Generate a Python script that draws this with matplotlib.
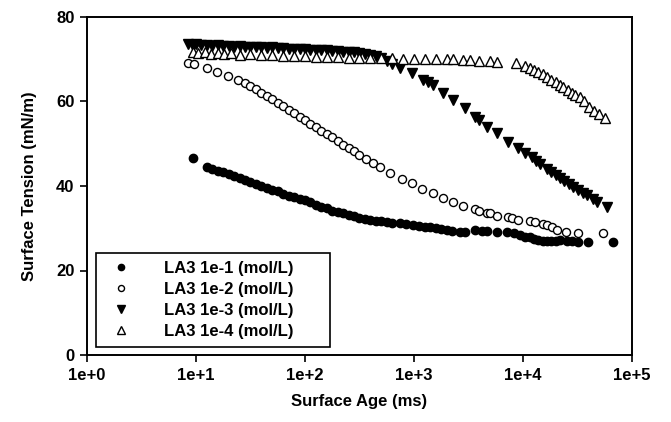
import matplotlib
matplotlib.use("Agg")
import matplotlib.pyplot as plt
from matplotlib import font_manager

names = {f.name for f in font_manager.fontManager.ttflist}
fam = "Liberation Sans Narrow" if "Liberation Sans Narrow" in names else "Liberation Sans"
plt.rcParams["font.family"] = [fam, "DejaVu Sans"]
plt.rcParams["font.weight"] = "bold"

# ---- data (surface age in ms, surface tension in mN/m) ----
age_1 = [9.3, 12.6, 14.1, 15.8, 17.8, 20, 22.4, 25.1, 28.2, 31.6, 35.5, 39.8, 44.7, 50.1, 56.2,
         63.1, 70.8, 79.4, 89.1, 100, 112, 126, 141, 158, 178, 200, 224, 251, 282, 316, 355,
         398, 447, 501, 562, 631, 741, 851, 977, 1122, 1259, 1413, 1585, 1778, 1995, 2239,
         2630, 2951, 3631, 4169, 4677, 5754, 7079, 8318, 9333, 10471, 11482, 12589, 13804,
         15136, 16596, 18197, 19953, 21878, 25119, 28184, 31623, 39811, 67608]
st_1 = [46.6, 44.6, 44.1, 43.6, 43.2, 42.8, 42.4, 41.9, 41.5, 41.0, 40.5, 40.0, 39.6, 39.1, 38.7,
        38.2, 37.7, 37.3, 36.9, 36.6, 36.1, 35.6, 35.1, 34.7, 34.2, 33.9, 33.5, 33.1, 32.8, 32.5, 32.2,
        32.0, 31.8, 31.6, 31.4, 31.3, 31.2, 30.9, 30.8, 30.6, 30.4, 30.3, 30.0, 29.8, 29.6, 29.4,
        29.1, 29.0, 29.6, 29.4, 29.3, 29.2, 29.1, 28.8, 28.4, 28.0, 27.9, 27.5, 27.2,
        27.0, 26.9, 27.0, 27.1, 27.2, 27.0, 26.9, 26.8, 26.8, 26.7]

age_2 = [8.5, 9.5, 12.6, 15.5, 19.5, 24.5, 28.2, 31.6, 35.5, 39.8, 44.7, 50.1, 56.2, 63.1, 70.8,
         79.4, 89.1, 100, 112, 126, 141, 158, 178, 200, 224, 251, 282, 316, 363, 417, 490, 603,
         776, 955, 1175, 1479, 1862, 2291, 2818, 3631, 3981, 4677, 5012, 5754, 7244, 7943, 8913,
         11482, 12882, 15136, 16596, 18621, 20417, 24547, 31623, 53703]
st_2 = [69.1, 68.9, 67.9, 66.9, 66.0, 65.2, 64.4, 63.7, 62.9, 62.1, 61.3, 60.5, 59.7, 58.9, 58.1,
        57.2, 56.4, 55.6, 54.7, 53.9, 53.1, 52.3, 51.5, 50.6, 49.8, 49.0, 48.2, 47.4, 46.4, 45.4, 44.5, 43.1,
        41.6, 40.7, 39.3, 38.3, 37.2, 36.2, 35.2, 34.6, 34.2, 33.6, 33.6, 32.9, 32.6, 32.4, 32.0,
        31.6, 31.4, 31.0, 30.8, 30.2, 29.6, 29.1, 28.9, 28.9]

age_3 = [8.5, 9.3, 10, 11.2, 12.6, 14.1, 15.8, 17.8, 20, 22.4, 25.1, 28.2, 31.6, 35.5, 39.8, 44.7,
         50.1, 56.2, 63.1, 70.8, 79.4, 89.1, 100, 112, 126, 141, 158, 178, 200, 224, 251, 282, 316,
         355, 398, 447, 501, 562, 631, 741, 955, 1202, 1349, 1479, 1862, 2291, 2951, 3631, 3981,
         4677, 5754, 7244, 8913, 10471, 12023, 13183, 14454, 16596, 18197, 19953, 21878, 23988,
         26303, 28840, 31623, 35481, 38905, 43652, 47863, 58884]
st_3 = [73.6, 73.2, 73.5, 73.3, 73.4, 73.2, 73.3, 73.1, 73.2, 73.0, 73.1, 72.9, 73.0, 72.8, 72.9, 72.7,
        72.8, 72.6, 72.6, 72.5, 72.5, 72.4, 72.4, 72.3, 72.3, 72.2, 72.1, 72.0, 71.9, 71.8, 71.7, 71.6, 71.4,
        71.2, 71.0, 70.7, 70.3, 69.6, 68.8, 67.9, 66.7, 65.1, 64.6, 63.9, 62.0, 60.4, 58.5, 56.3, 55.6,
        54.0, 52.5, 50.4, 49.0, 47.9, 46.9, 46.0, 45.2, 44.1, 43.3, 42.6, 41.9, 41.1,
        40.4, 39.8, 39.0, 38.3, 37.9, 37.0, 36.2, 35.0]

age_4 = [9.3, 10.5, 12, 13.8, 15.8, 18.2, 20.9, 25.1, 31.6, 39.8, 50.1, 63.1, 79.4, 100, 126, 158,
         200, 251, 316, 398, 501, 631, 794, 1000, 1259, 1585, 1995, 2291, 2818, 3236, 3981, 5012,
         5754, 8710, 10471, 11482, 12589, 13804, 15136, 16596, 18197, 19953, 21878, 23442, 25704,
         28184, 30200, 33113, 36308, 40738, 44668, 50119, 56234]
st_4 = [71.8, 71.5, 71.6, 71.3, 71.5, 71.2, 71.4, 71.1, 71.2, 71.0, 70.9, 70.8, 70.7, 70.7, 70.6, 70.5,
        70.5, 70.4, 70.3, 70.3, 70.2, 70.2, 70.1, 70.1, 70.0, 70.0, 70.0, 70.1, 69.8, 69.8, 69.7, 69.5,
        69.3, 69.1, 68.4, 67.9, 67.5, 66.9, 66.4, 65.8, 65.2, 64.6, 63.9, 63.4, 62.8,
        62.1, 61.6, 61.1, 60.1, 58.7, 57.8, 57.0, 56.1]

labels = ["LA3 1e-1 (mol/L)", "LA3 1e-2 (mol/L)", "LA3 1e-3 (mol/L)", "LA3 1e-4 (mol/L)"]
x_ticks = [1, 10, 100, 1000, 10000, 100000]
x_tick_labels = ["1e+0", "1e+1", "1e+2", "1e+3", "1e+4", "1e+5"]
y_ticks = [0, 20, 40, 60, 80]

fig = plt.figure(figsize=(6.71, 4.22), dpi=100)
ax = fig.add_axes([87 / 671, 1 - 355 / 422, 545 / 671, 338 / 422])

ax.plot(age_1, st_1, ls="none", marker="o", ms=6.0, mfc="black", mec="black", label=labels[0])
ax.plot(age_2, st_2, ls="none", marker="o", ms=5.8, mfc="white", mec="black", mew=1.0, label=labels[1])
ax.plot(age_3, st_3, ls="none", marker="v", ms=6.8, mfc="black", mec="black", label=labels[2])
ax.plot(age_4, st_4, ls="none", marker="^", ms=6.8, mfc="white", mec="black", mew=1.0, label=labels[3])

ax.set_xscale("log")
ax.set_xlim(1, 100000)
ax.set_ylim(0, 80)
ax.set_xticks(x_ticks)
ax.set_xticklabels(x_tick_labels)
ax.xaxis.set_minor_locator(matplotlib.ticker.NullLocator())
ax.set_yticks(y_ticks)
ax.tick_params(axis="both", direction="out", length=5, width=1.2, labelsize=12, pad=4)
for lab in ax.get_xticklabels() + ax.get_yticklabels():
    lab.set_fontweight("bold")
for sp in ax.spines.values():
    sp.set_linewidth(1.4)

ax.set_xlabel("Surface Age (ms)", fontsize=12, fontweight="bold", labelpad=8)
ax.set_ylabel("Surface Tension (mN/m)", fontsize=12, fontweight="bold", labelpad=14)

leg = ax.legend(loc="lower left", bbox_to_anchor=(0.0165, 0.024, 0.43, 0.307), mode="expand",
                frameon=True, fancybox=False, edgecolor="black", framealpha=1,
                prop={"weight": "bold", "size": 12}, markerscale=0.75,
                handletextpad=1.6, borderpad=0.5, labelspacing=0.35, borderaxespad=0)
leg.get_frame().set_linewidth(1.2)

fig.savefig("out.png", dpi=100)
